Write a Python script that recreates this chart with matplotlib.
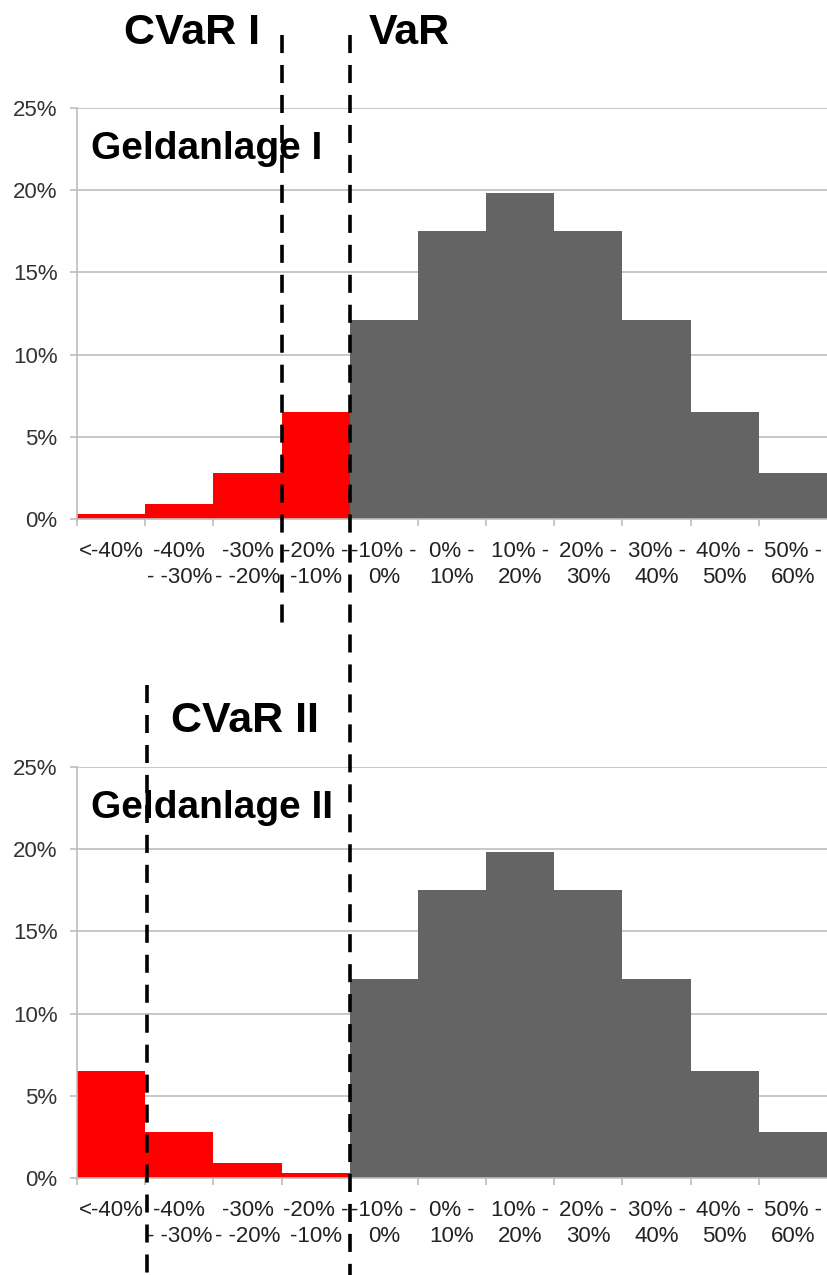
import matplotlib
matplotlib.use("Agg")
import matplotlib.pyplot as plt
from matplotlib.lines import Line2D
from matplotlib.transforms import blended_transform_factory
from matplotlib.ticker import FuncFormatter

plt.rcParams['font.family'] = ['Liberation Sans', 'DejaVu Sans']

categories = ["<-40%", "-40%\n- -30%", "-30%\n- -20%", "-20% -\n-10%", "-10% -\n0%",
              "0% -\n10%", "10% -\n20%", "20% -\n30%", "30% -\n40%", "40% -\n50%", "50% -\n60%"]
values_1 = [0.3, 0.9, 2.8, 6.5, 12.1, 17.5, 19.8, 17.5, 12.1, 6.5, 2.8]
values_2 = [6.5, 2.8, 0.9, 0.3, 12.1, 17.5, 19.8, 17.5, 12.1, 6.5, 2.8]
n_red = 4  # bars below the VaR threshold
yticks = [0, 5, 10, 15, 20, 25]

RED = "#FF0000"
GRAY = "#646464"
GRID = "#BEBEBE"

W, H = 827, 1275
fig = plt.figure(figsize=(W / 100, H / 100), dpi=100)

def fy(px):
    return 1 - px / H

def make_ax(bottom_px, top_px, vals):
    ax = fig.add_axes([77 / W, fy(bottom_px), 1 - 77 / W, (bottom_px - top_px) / H])
    x = list(range(len(vals)))
    colors = [RED if i < n_red else GRAY for i in x]
    ax.bar(x, vals, width=1.0, color=colors, edgecolor='none', zorder=2)
    ax.set_xlim(-0.5, len(vals) - 0.5)
    ax.set_ylim(0, 25)
    ax.set_yticks(yticks)
    ax.yaxis.set_major_formatter(FuncFormatter(lambda v, p: f"{int(v)}%"))
    ax.set_xticks([i + 0.5 for i in range(-1, len(vals) - 1)])
    ax.set_xticklabels([])
    ax.set_xticks(x, minor=True)
    ax.set_xticklabels(categories, minor=True, fontsize=16, color="#222222", linespacing=1.3)
    ax.tick_params(axis='x', which='minor', length=0, pad=16)
    ax.tick_params(axis='x', which='major', length=5, color=GRID, width=1.2)
    ax.tick_params(axis='y', length=5, color=GRID, width=1.2, labelsize=16,
                   labelcolor="#333333", pad=9)
    ax.grid(axis='y', color=GRID, linewidth=1.2, zorder=0)
    for s in ['top', 'right']:
        ax.spines[s].set_visible(False)
    for s in ['left', 'bottom']:
        ax.spines[s].set_color(GRID)
        ax.spines[s].set_linewidth(1.2)
    ax.set_axisbelow(True)
    return ax

ax1 = make_ax(519, 108, values_1)
ax2 = make_ax(1178, 767, values_2)

def vline(ax, xdata, y0px, y1px):
    tr = blended_transform_factory(ax.transData, fig.transFigure)
    ln = Line2D([xdata, xdata], [fy(y0px), fy(y1px)], transform=tr, color='black',
                linewidth=2.6, dashes=(5, 3.3), zorder=10)
    fig.add_artist(ln)

vline(ax1, 2.5, 35, 625)     # CVaR I
vline(ax1, 3.5, 35, 1275)    # VaR
vline(ax2, 0.52, 685, 1275)  # CVaR II

def label(text, xpx, ypx, size):
    fig.text(xpx / W, fy(ypx), text, fontsize=size, fontweight='bold',
             ha='left', va='baseline', color='black', zorder=11)

label("CVaR I", 124, 44, 31)
label("VaR", 369, 44, 31)
label("Geldanlage I", 91, 159, 28)
label("CVaR II", 171, 732, 31)
label("Geldanlage II", 91, 818, 28)

fig.savefig("out.png", dpi=100)
